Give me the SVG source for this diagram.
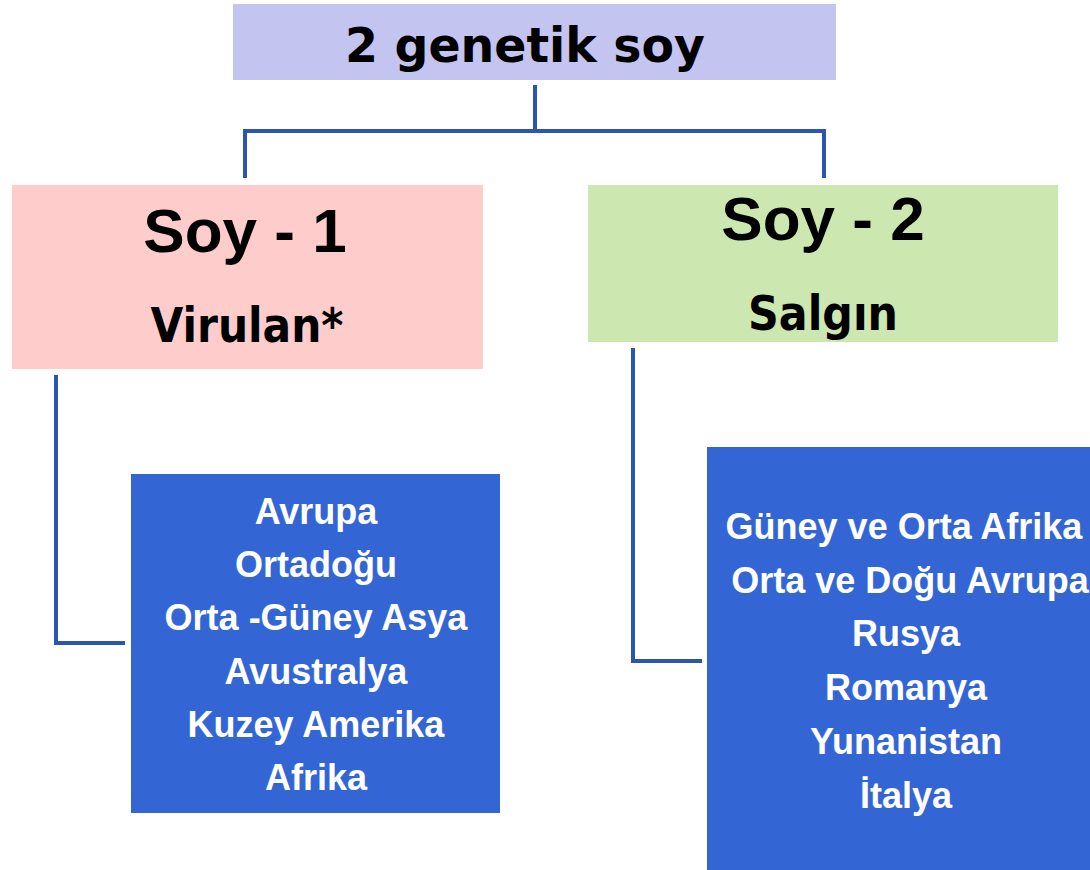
<svg xmlns="http://www.w3.org/2000/svg" width="1090" height="870" viewBox="0 0 1090 870">
<style>
.hand{font-family:"DejaVu Sans","Noto Sans",sans-serif;font-weight:bold;fill:#000;text-anchor:middle}
.big{font-family:"Liberation Sans",Arial,sans-serif;font-weight:bold;font-size:62px;fill:#000;text-anchor:middle}
.list{font-family:"Liberation Sans",Arial,sans-serif;font-weight:bold;font-size:36px;fill:#fff;text-anchor:middle}
.conn{fill:none;stroke:#2a55b0;stroke-width:4;stroke-linejoin:miter}
</style>
<rect width="1090" height="870" fill="#fff"/>
<g id="connectors">
<path class="conn" d="M535 85 V131 M245 178 V131 H824 V178"/>
<path class="conn" d="M56 375 V643 H125"/>
<path class="conn" d="M633 348 V661 H702"/>
</g>
<g id="root">
<rect x="233" y="4" width="603" height="76" fill="#c4c4f0"/>
<text class="hand" x="525" y="62" font-size="48" textLength="360" lengthAdjust="spacingAndGlyphs">2 genetik soy</text>
</g>
<g id="soy1">
<rect x="12" y="185" width="471" height="184" fill="#ffcccc"/>
<text class="big" x="245" y="252">Soy - 1</text>
<text class="hand" x="247" y="342" font-size="48" textLength="193" lengthAdjust="spacingAndGlyphs">Virulan*</text>
</g>
<g id="soy2">
<rect x="588" y="185" width="470" height="157" fill="#cce8b0"/>
<text class="big" x="823" y="240">Soy - 2</text>
<text class="hand" x="823" y="330" font-size="48" textLength="150" lengthAdjust="spacingAndGlyphs">Salgın</text>
</g>
<g id="list1">
<rect x="131" y="474" width="369" height="339" fill="#3366d4"/>
<text class="list" x="316" y="524">Avrupa</text>
<text class="list" x="316" y="577">Ortadoğu</text>
<text class="list" x="316" y="630">Orta -Güney Asya</text>
<text class="list" x="316" y="684">Avustralya</text>
<text class="list" x="316" y="737">Kuzey Amerika</text>
<text class="list" x="316" y="790">Afrika</text>
</g>
<g id="list2">
<rect x="707" y="447" width="390" height="430" fill="#3366d4"/>
<text class="list" x="904" y="539">Güney ve Orta Afrika</text>
<text class="list" x="910" y="593">Orta ve Doğu Avrupa</text>
<text class="list" x="906" y="646">Rusya</text>
<text class="list" x="906" y="700">Romanya</text>
<text class="list" x="906" y="754">Yunanistan</text>
<text class="list" x="906" y="808">İtalya</text>
</g>
</svg>
